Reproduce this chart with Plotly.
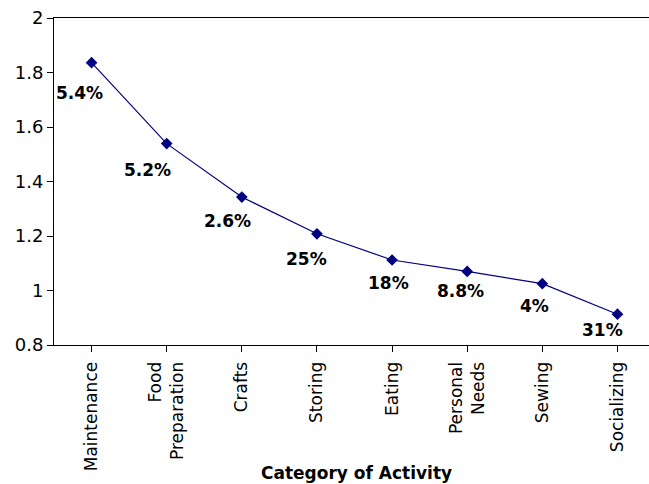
import plotly.graph_objects as go

categories = ["Maintenance", "Food<br>Preparation", "Crafts", "Storing", "Eating",
              "Personal<br>Needs", "Sewing", "Socializing"]
values = [1.836, 1.539, 1.343, 1.208, 1.112, 1.070, 1.025, 0.913]
pct_labels = ["5.4%", "5.2%", "2.6%", "25%", "18%", "8.8%", "4%", "31%"]
y_ticks = [0.8, 1.0, 1.2, 1.4, 1.6, 1.8, 2.0]
y_ticktext = ["0.8", "1", "1.2", "1.4", "1.6", "1.8", "2"]

# label offsets (pixels) relative to each point
label_dx = [-12, -19, -14, -10, -4, -7, -8, -15]
label_dy = [30, 26, 24, 25, 23, 20, 22, 16]

FONT = "DejaVu Sans, Liberation Sans, Arial"

fig = go.Figure()
fig.add_trace(go.Scatter(
    x=list(range(len(categories))), y=values, mode="lines+markers",
    line=dict(color="#000080", width=1.2),
    marker=dict(symbol="diamond", size=9, color="#000080"),
    showlegend=False, hoverinfo="skip"))

for i, (v, t) in enumerate(zip(values, pct_labels)):
    fig.add_annotation(x=i, y=v, text="<b>" + t + "</b>", showarrow=False,
                       xshift=label_dx[i], yshift=-label_dy[i],
                       font=dict(family=FONT, size=17, color="black"))

fig.add_annotation(xref="paper", yref="paper", x=0.508, y=-0.391,
                   text="<b>Category of Activity</b>", showarrow=False,
                   xanchor="center", yanchor="middle",
                   font=dict(family=FONT, size=17, color="black"))

fig.update_layout(
    width=649, height=484,
    margin=dict(l=54, r=0, t=18, b=139),
    paper_bgcolor="white", plot_bgcolor="white",
    font=dict(family=FONT, size=17, color="black"),
    xaxis=dict(
        range=[-0.5, 7.42], automargin=False,
        tickmode="array", tickvals=list(range(len(categories))), ticktext=categories,
        tickangle=-90, ticks="outside", ticklen=6, tickcolor="black",
        showline=True, linecolor="black", linewidth=1, mirror=True,
        showgrid=False, zeroline=False,
        tickfont=dict(size=17), ticklabelstandoff=3),
    yaxis=dict(
        range=[0.8, 2.0], automargin=False,
        tickmode="array", tickvals=y_ticks, ticktext=y_ticktext,
        ticks="outside", ticklen=6, tickcolor="black",
        showline=True, linecolor="black", linewidth=1,
        showgrid=False, zeroline=False, tickfont=dict(size=18)),
)
fig.update_xaxes(tickson="boundaries")

fig.write_html("out.html", config={"displayModeBar": False},
               post_script="document.body.style.margin='0';document.body.style.overflow='hidden';")
